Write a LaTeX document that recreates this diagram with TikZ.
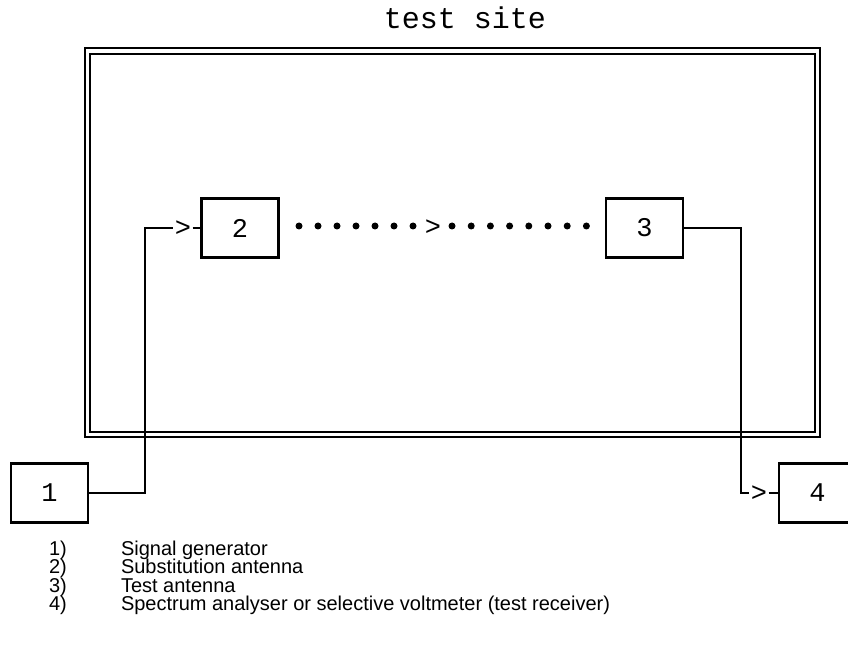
\documentclass[tikz,border=0pt]{standalone}
\usepackage{fontspec}
\setmainfont{Liberation Sans}
\newfontfamily\monofnt{Liberation Mono}
\begin{document}
\begin{tikzpicture}[x=1pt,y=-1pt,line width=2pt,
  boxnode/.style={draw,line width=2.2pt,minimum width=77pt,minimum height=59pt,inner sep=0pt,
    font=\monofnt\fontsize{27}{27}\selectfont},
  arrowtxt/.style={inner sep=0.5pt,font=\monofnt\fontsize{27}{27}\selectfont},
  frameline/.style={line width=2pt},
  wire/.style={line width=2.2pt},
  dotmark/.style={fill=black,draw=none},
  legnum/.style={anchor=base west,inner sep=0pt,font=\fontsize{20}{20}\selectfont},
  legtxt/.style={anchor=base west,inner sep=0pt,font=\fontsize{20}{20}\selectfont}]
\useasboundingbox (0,0) rectangle (848,660);
% title
\node[font=\monofnt\fontsize{30}{30}\selectfont,anchor=base] (title) at (465,29) {test site};
% frame
\draw[frameline] (85,48) rectangle (820,437);
\draw[frameline] (90,54) rectangle (815,432);
% boxes
\node[boxnode] (b1) at (49.5,493) {1};
\node[boxnode] (b2) at (240,228) {2};
\node[boxnode] (b3) at (644.5,228) {3};
\node[boxnode] (b4) at (817.5,493) {4};
% arrows as text
\node[arrowtxt] (a1) at (183,228.5) {>};
\node[arrowtxt] (a2) at (759,493.5) {>};
\node[arrowtxt] (a3) at (433,228) {>};
\coordinate (c1) at (145,228);
\coordinate (c2) at (741,493);
% connectors
\draw[wire] (b1.east) -| (c1) -- (a1.west |- c1);
\draw[wire] (a1.east |- c1) -- (b2.west);
\draw[wire] (b3.east) -| (c2) -- (a2.west |- c2);
\draw[wire] (a2.east |- c2) -- (b4.west);
% dotted link
\foreach \i in {0,...,6} \fill[dotmark] (299+19*\i,226) circle (3.5pt);
\foreach \i in {0,...,7} \fill[dotmark] (452+19.2*\i,226) circle (3.5pt);
% legend
\node[legnum] (n1) at (48,555) {1)};
\node[legtxt] (t1) at (120,555) {Signal generator};
\node[legnum] (n2) at (48,573.5) {2)};
\node[legtxt] (t2) at (120,573.5) {Substitution antenna};
\node[legnum] (n3) at (48,592) {3)};
\node[legtxt] (t3) at (120,592) {Test antenna};
\node[legnum] (n4) at (48,610.5) {4)};
\node[legtxt] (t4) at (120,610.5) {Spectrum analyser or selective voltmeter (test receiver)};
\end{tikzpicture}
\end{document}
